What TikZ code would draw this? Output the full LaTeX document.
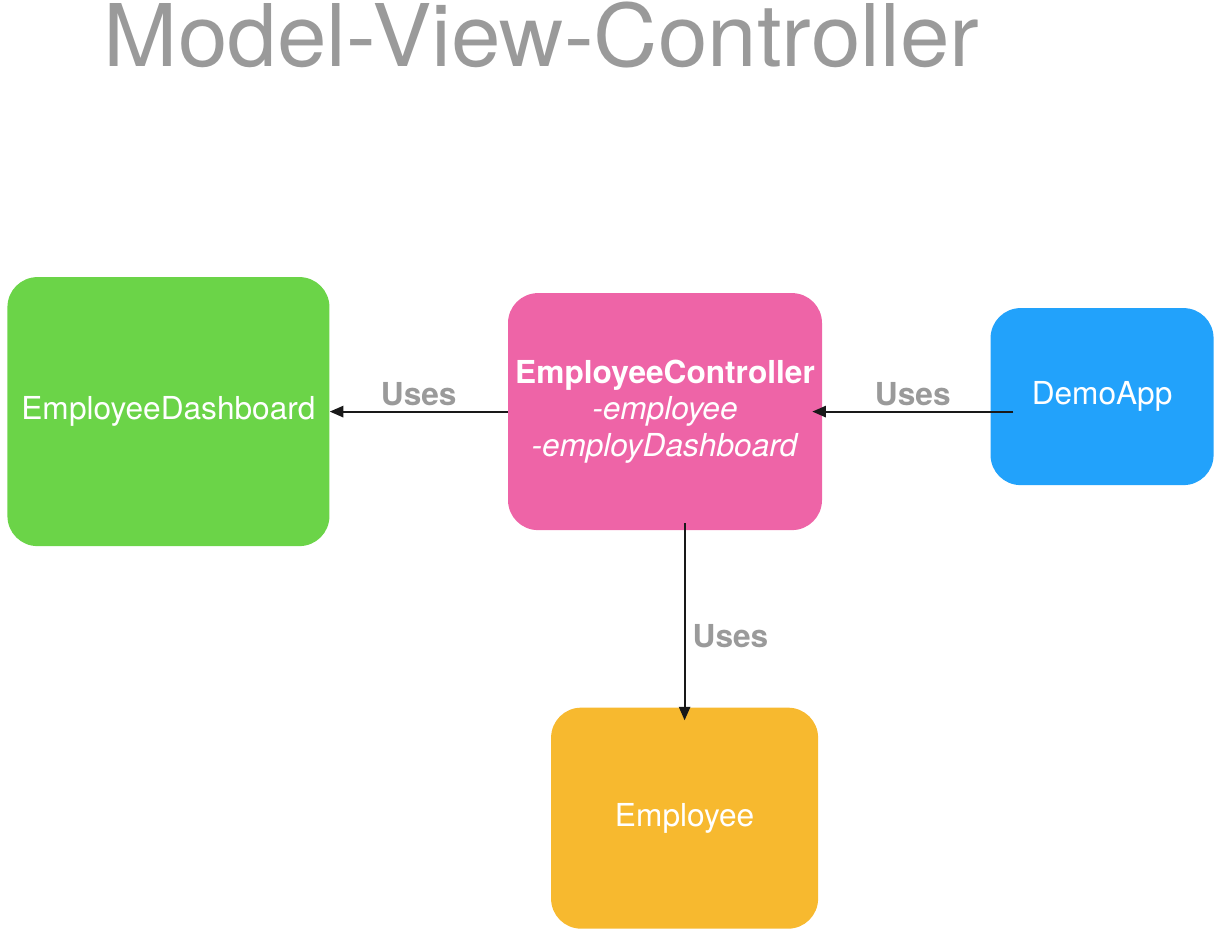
\documentclass[tikz,border=0pt]{standalone}
\usepackage{fontspec}
\setmainfont{TeX Gyre Heros}
\usepackage{tikz}
\usetikzlibrary{positioning, arrows.meta}
\definecolor{dashgreen}{HTML}{6BD448}
\definecolor{ctrlpink}{HTML}{EE64A7}
\definecolor{appblue}{HTML}{22A2FB}
\definecolor{empyellow}{HTML}{F7B92F}
\definecolor{labelgray}{HTML}{9A9A9A}
\tikzset{
	layer/.append style={
		align = center,
		rounded corners=0.75cm,
		text=white,
		font={\fontsize{22.5}{26.2}\selectfont},
	},
	labe/.append style={
		text=labelgray,
		inner sep=3pt,
		font={\fontsize{22.5}{25.6}\selectfont\bfseries},
	},
	uses/.append style={
		draw=black!90,
		line width=1.5pt,
		-{Triangle[length=3.4mm, width=2.8mm]},
	},
}

\begin{document}
\begin{tikzpicture}[]

\useasboundingbox (0,0) rectangle (30.5,-23.55);

\node(title)[anchor=base, text=labelgray, xscale=1.03, font={\fontsize{61.5}{70}\selectfont}] at (13.54,-1.66) {Model-View-Controller};

\node(ctrl)[layer, fill=ctrlpink, minimum width=7.85cm, minimum height=5.925cm] at (16.625,-10.29)
	{\textbf{EmployeeController}\\ \textit{-employee}\\ \textit{-employDashboard}};

\node(dash)[layer, fill=dashgreen, minimum width=8.05cm, minimum height=6.725cm, left = 4.45cm of ctrl] {EmployeeDashboard};
\draw[uses] (ctrl.west) -- (ctrl.west -| dash.east) node[labe, midway, above] {Uses};

\node(app)[layer, fill=appblue, minimum width=5.575cm, minimum height=4.425cm, right = 4.2cm of ctrl, yshift=0.375cm] {DemoApp};
\path (app.west |- ctrl) ++(0.575,0) coordinate (appout);
\draw[uses] (appout) -- ([xshift=-0.25cm]ctrl.east) node[labe, midway, above] {Uses};

\node(emp)[layer, fill=empyellow, minimum width=6.675cm, minimum height=5.525cm, below = 4.425cm of ctrl, xshift=0.49cm] {Employee};
\path (emp.north |- ctrl.south) ++(0,0.175) coordinate (ctrlout);
\draw[uses] (ctrlout) -- ([yshift=-0.325cm]emp.north) node[labe, pos=0.57, right, xshift=2pt] {Uses};

\end{tikzpicture}
\end{document}
